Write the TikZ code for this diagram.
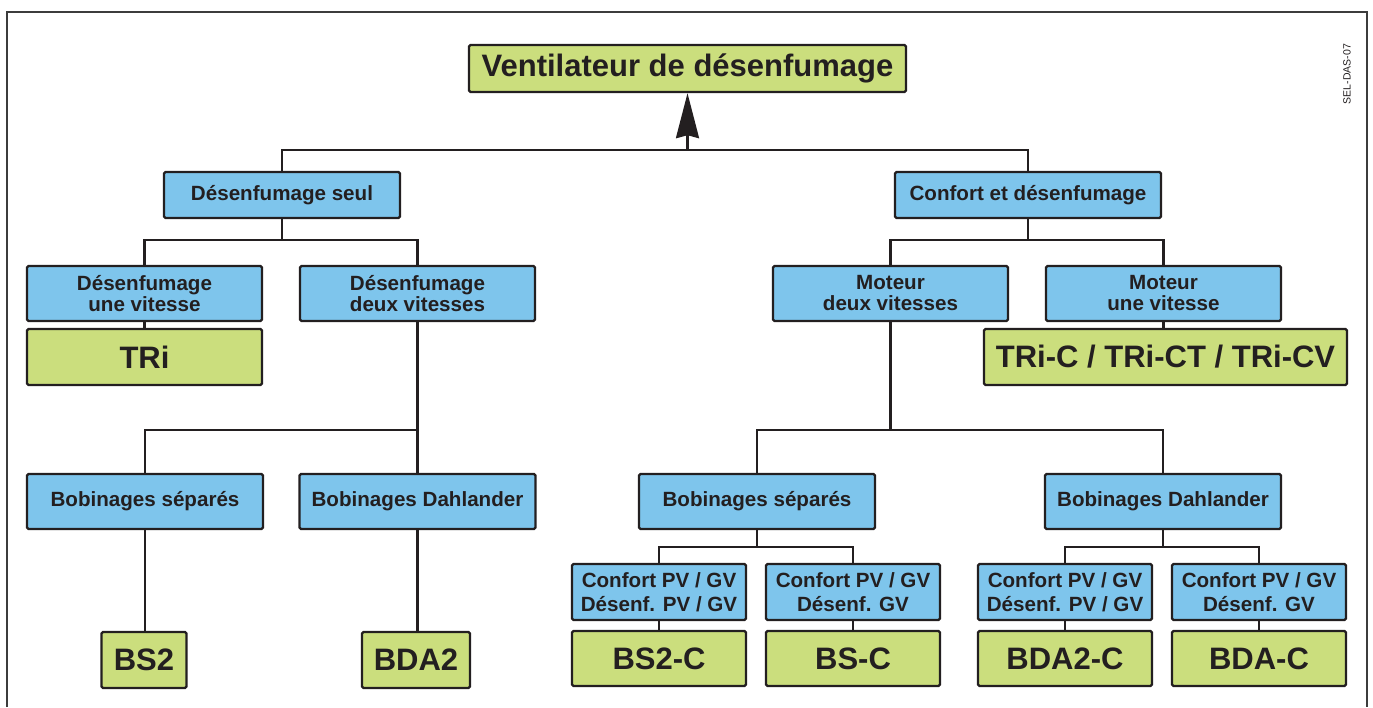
\documentclass[tikz,border=0pt]{standalone}
\usepackage{fontspec}
\setmainfont{Liberation Sans}
\usetikzlibrary{arrows.meta}
\definecolor{boxblue}{HTML}{7EC5EC}
\definecolor{boxgreen}{HTML}{CBDE7D}
\definecolor{ink}{HTML}{231F20}
\definecolor{framegray}{HTML}{3C3C3C}
\begin{document}
\begin{tikzpicture}[x=1pt,y=-1pt,
  box/.style={draw=ink, line width=2.4pt, rounded corners=1.5pt, inner sep=0pt, align=center, text=ink},
  bluebox/.style={box, fill=boxblue, font=\bfseries\fontsize{20.6}{21}\selectfont},
  cbox/.style={box, fill=boxblue, font=\bfseries\fontsize{20.6}{23.5}\selectfont, minimum width=174pt, minimum height=56pt},
  greenbox/.style={box, fill=boxgreen, font=\bfseries\fontsize{31}{32}\selectfont},
  link/.style={draw=ink, line width=2.4pt, line join=miter}]
\useasboundingbox (0,0) rectangle (1373,707);
% frame
\draw[framegray, line width=2pt] (7,707) -- (7,12) -- (1367,12) -- (1367,707);
\node[rotate=90, text=ink, font=\fontsize{10.5}{11}\selectfont, inner sep=0pt] (code) at (1347,74) {SEL-DAS-07};

% nodes
\node[greenbox, minimum width=437pt, minimum height=47pt] (title) at (687.5,68.5) {Ventilateur de désenfumage};
\node[bluebox, minimum width=236pt, minimum height=46pt] (ds) at (282,195) {Désenfumage seul};
\node[bluebox, minimum width=266pt, minimum height=46pt] (ced) at (1028,195) {Confort et désenfumage};

\node[bluebox, minimum width=235pt, minimum height=55pt] (duv) at (144.5,293.5) {Désenfumage\\une vitesse};
\node[bluebox, minimum width=235pt, minimum height=55pt] (ddv) at (417.5,293.5) {Désenfumage\\deux vitesses};
\node[greenbox, minimum width=235pt, minimum height=56pt] (tri) at (144.5,357) {TRi};

\node[bluebox, minimum width=235pt, minimum height=55pt] (mdv) at (890.5,293.5) {Moteur\\deux vitesses};
\node[bluebox, minimum width=235pt, minimum height=55pt] (muv) at (1163.5,293.5) {Moteur\\une vitesse};
\node[greenbox, minimum width=363pt, minimum height=56pt] (tric) at (1165.5,357) {TRi-C / TRi-CT / TRi-CV};

\node[bluebox, minimum width=236pt, minimum height=55pt] (bsl) at (145,501.5) {Bobinages séparés};
\node[bluebox, minimum width=236pt, minimum height=55pt] (bdl) at (417.5,501.5) {Bobinages Dahlander};
\node[greenbox, minimum width=85pt, minimum height=56pt] (bs2) at (144,660) {BS2};
\node[greenbox, minimum width=108pt, minimum height=56pt] (bda2) at (416,660) {BDA2};

\node[bluebox, minimum width=236pt, minimum height=55pt] (bsr) at (757,501.5) {Bobinages séparés};
\node[bluebox, minimum width=236pt, minimum height=55pt] (bdr) at (1163,501.5) {Bobinages Dahlander};

\node[cbox] (c1) at (659,592) {Confort PV / GV\\Désenf. PV / GV};
\node[cbox] (c2) at (853,592) {Confort PV / GV\\Désenf. GV};
\node[cbox] (c3) at (1065,592) {Confort PV / GV\\Désenf. PV / GV};
\node[cbox] (c4) at (1259,592) {Confort PV / GV\\Désenf. GV};

\node[greenbox, minimum width=174pt, minimum height=55pt] (g1) at (659,658.5) {BS2-C};
\node[greenbox, minimum width=174pt, minimum height=55pt] (g2) at (853,658.5) {BS-C};
\node[greenbox, minimum width=174pt, minimum height=55pt] (g3) at (1065,658.5) {BDA2-C};
\node[greenbox, minimum width=174pt, minimum height=55pt] (g4) at (1259,658.5) {BDA-C};

% junctions
\coordinate (j0) at (687.5,150);
\coordinate (j1) at (282,240);
\coordinate (j2) at (1028,240);
\coordinate (j3) at (417.5,430);
\coordinate (j4) at (890.5,430);
\coordinate (j5) at (757,547);
\coordinate (j6) at (1163,547);

% connectors
\draw[link, -{Stealth[length=45pt,width=23pt,inset=3pt]}] (j0) -- (title.south);
\draw[link] (ds.north) |- (j0) -| (ced.north);
\draw[link] (ds.south) -- (j1);
\draw[link] (duv.north) |- (j1) -| (ddv.north);
\draw[link] (ced.south) -- (j2);
\draw[link] (mdv.north) |- (j2) -| (muv.north);
\draw[link] (duv.south) -- (tri.north);
\draw[link] (muv.south) -- (muv.south |- tric.north);
\draw[link] (ddv.south) -- (bdl.north);
\draw[link] (bsl.north) |- (j3);
\draw[link] (mdv.south) -- (j4);
\draw[link] (bsr.north) |- (j4) -| (bdr.north);
\draw[link] (bsl.south) -- (bsl.south |- bs2.north);
\draw[link] (bdl.south) -- (bdl.south |- bda2.north);
\draw[link] (bsr.south) -- (j5);
\draw[link] (c1.north) |- (j5) -| (c2.north);
\draw[link] (bdr.south) -- (j6);
\draw[link] (c3.north) |- (j6) -| (c4.north);
\draw[link] (c1.south) -- (g1.north);
\draw[link] (c2.south) -- (g2.north);
\draw[link] (c3.south) -- (g3.north);
\draw[link] (c4.south) -- (g4.north);
\end{tikzpicture}
\end{document}
